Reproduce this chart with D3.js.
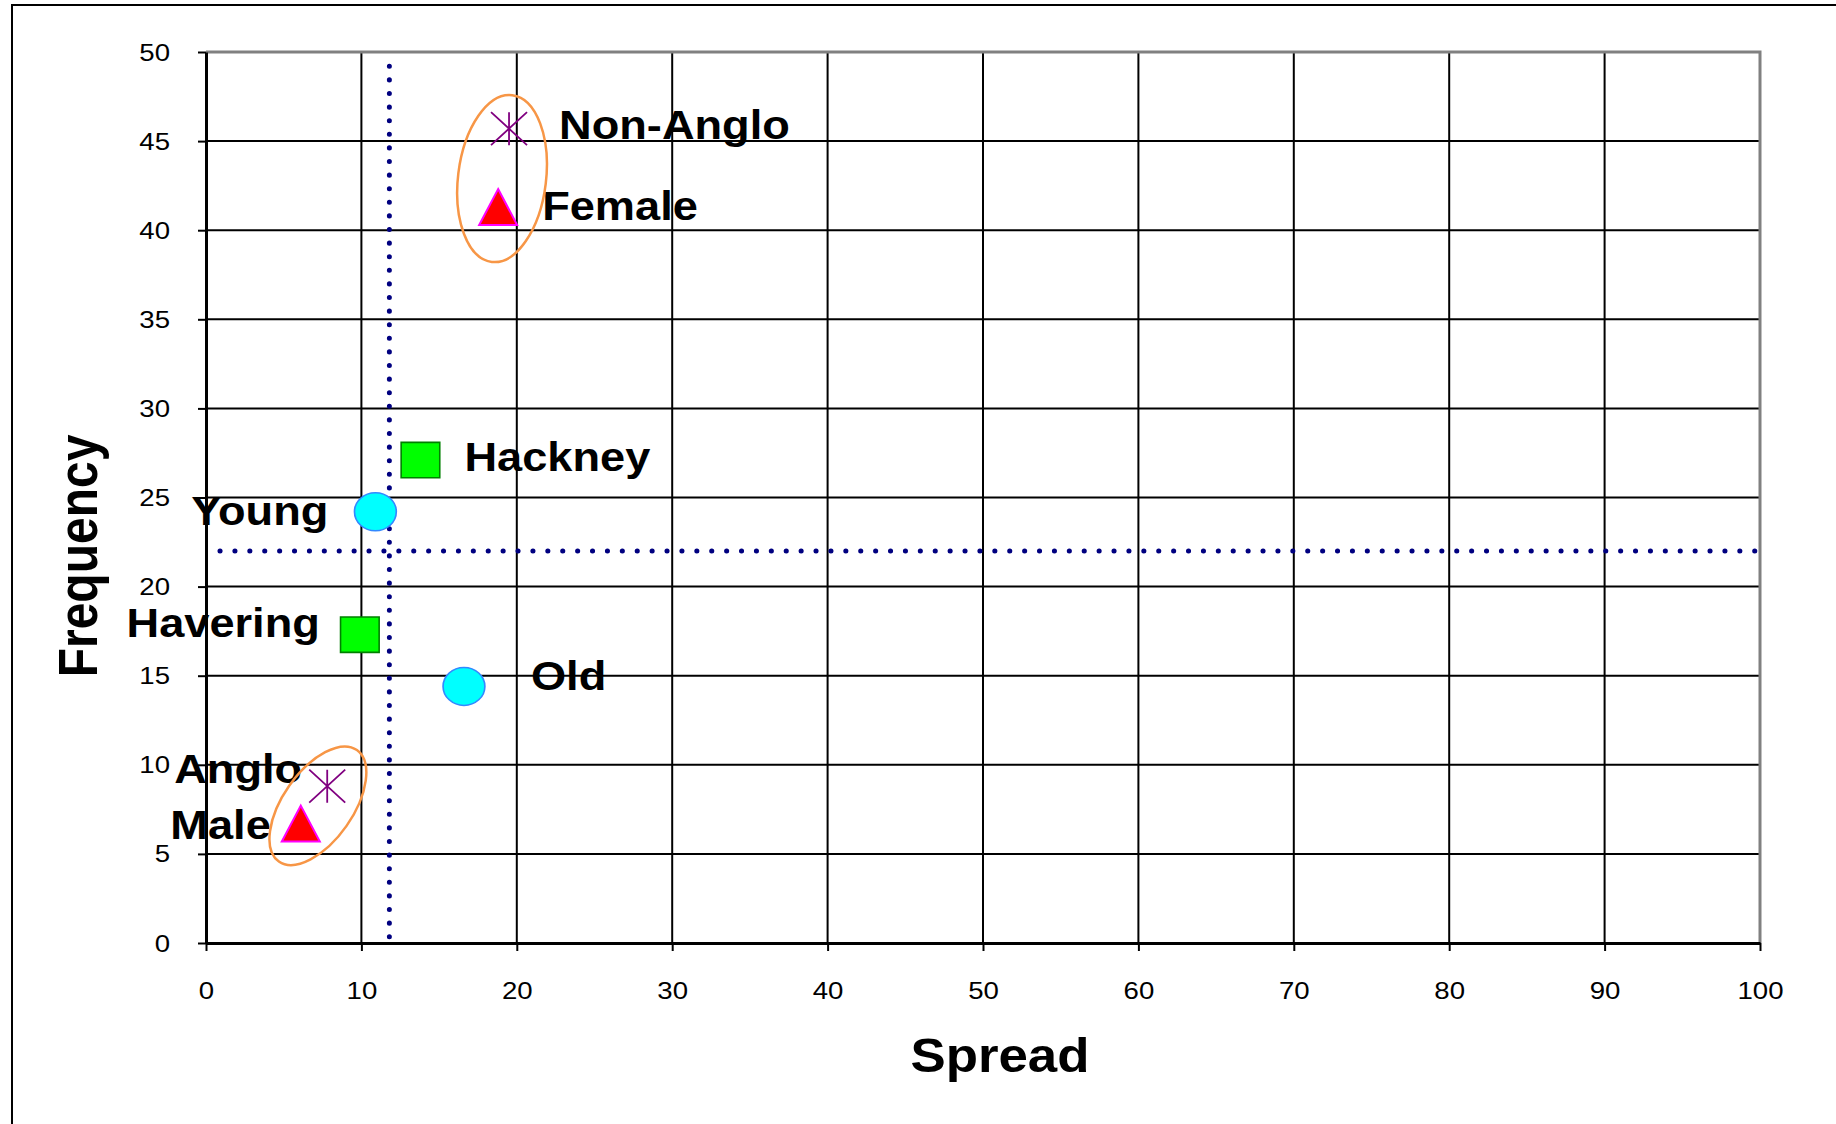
<!DOCTYPE html>
<html>
<head>
<meta charset="utf-8">
<script src="https://cdn.jsdelivr.net/npm/d3@7"></script>
<style>
    body { margin: 0; background: #fff; }
    #chart { width: 1836px; height: 1124px; }
</style>
</head>
<body>
<div id="chart"></div>
<script>
// data
const labels = ["Non-Anglo", "Female", "Hackney", "Young", "Havering", "Old", "Anglo", "Male"];
const groups = ["ethnicity", "gender", "borough", "age", "borough", "age", "ethnicity", "gender"];
const spread = [19.5, 18.8, 13.8, 10.9, 9.9, 16.6, 7.8, 6.1];
const frequency = [45.7, 41.3, 27.1, 24.2, 17.3, 14.4, 8.8, 6.7];

const xTicks = [0, 10, 20, 30, 40, 50, 60, 70, 80, 90, 100];
const yTicks = [0, 5, 10, 15, 20, 25, 30, 35, 40, 45, 50];

// dotted reference lines (averages)
const spreadRef = 11.8;
const frequencyRef = 22;
const spreadRefRange = [-0.4, 49.2];      // y extent of the vertical line
const frequencyRefRange = [0.9, 100.6];   // x extent of the horizontal line

// circled pairs: centre in data units
const circledX = [19.05, 7.2];
const circledY = [42.9, 7.7];

class ScatterVis {
    constructor(parentElement) {
        this.parentElement = parentElement;
        this.initVis();
    }

    initVis() {
        let vis = this;

        vis.svg = d3.select(`#${vis.parentElement}`).append("svg")
            .attr("width", 1836)
            .attr("height", 1124)
            .style("font-family", "Arial, 'Liberation Sans', sans-serif");

        vis.svg.append("rect")
            .attr("width", 1836).attr("height", 1124).attr("fill", "#fff");

        // outer chart frame (runs off the right and bottom)
        vis.svg.append("rect")
            .attr("x", 12).attr("y", 5)
            .attr("width", 1900).attr("height", 1200)
            .attr("fill", "none")
            .attr("stroke", "#000")
            .attr("stroke-width", 2);

        vis.x = d3.scaleLinear().domain([0, 100]).range([206, 1760]);
        vis.y = d3.scaleLinear().domain([0, 50]).range([943, 52]);

        vis.drawGrid();
        vis.drawAxes();
        vis.drawRefLines();
        vis.drawPoints();
        vis.drawRings();
    }

    drawGrid() {
        let vis = this;
        const [x0, x1] = vis.x.range();
        const [y0, y1] = vis.y.range();

        vis.svg.append("g").selectAll("line")
            .data(xTicks.slice(1, -1))
            .enter().append("line")
            .attr("x1", d => vis.x(d)).attr("x2", d => vis.x(d))
            .attr("y1", y1).attr("y2", y0)
            .attr("stroke", "#000").attr("stroke-width", 2);

        vis.svg.append("g").selectAll("line")
            .data(yTicks.slice(1, -1))
            .enter().append("line")
            .attr("x1", x0).attr("x2", x1)
            .attr("y1", d => vis.y(d)).attr("y2", d => vis.y(d))
            .attr("stroke", "#000").attr("stroke-width", 2);

        // grey top and right border of the plot area
        vis.svg.append("path")
            .attr("d", `M${x0},${y1}H${x1}V${y0}`)
            .attr("fill", "none")
            .attr("stroke", "#808080")
            .attr("stroke-width", 3);
    }

    drawAxes() {
        let vis = this;

        const xAxis = d3.axisBottom(vis.x).tickValues(xTicks).tickSize(8).tickSizeOuter(0);
        const yAxis = d3.axisLeft(vis.y).tickValues(yTicks).tickSize(8).tickSizeOuter(0);

        const gx = vis.svg.append("g")
            .attr("transform", `translate(0,${vis.y(0)})`)
            .call(xAxis);
        const gy = vis.svg.append("g")
            .attr("transform", `translate(${vis.x(0)},0)`)
            .call(yAxis);

        [gx, gy].forEach(g => {
            g.select(".domain").attr("stroke", "#000").attr("stroke-width", 3);
            g.selectAll(".tick line").attr("stroke", "#000").attr("stroke-width", 2);
            g.selectAll(".tick text")
                .attr("fill", "#000")
                .style("font-size", "23px")
                .style("font-family", "Arial, 'Liberation Sans', sans-serif");
        });

        gx.selectAll(".tick text")
            .attr("y", 56).attr("dy", 0)
            .attr("transform", "scale(1.2,1)");
        gy.selectAll(".tick text")
            .attr("x", -30).attr("dy", "0.35em")
            .attr("transform", "scale(1.2,1)");

        // axis titles
        vis.svg.append("text")
            .attr("transform", `translate(1000,1072) scale(1.1,1)`)
            .attr("text-anchor", "middle")
            .style("font-size", "48px")
            .style("font-weight", "bold")
            .text("Spread");

        vis.svg.append("text")
            .attr("transform", `translate(97,556) scale(1.15,1) rotate(-90)`)
            .attr("text-anchor", "middle")
            .style("font-size", "48px")
            .style("font-weight", "bold")
            .text("Frequency");
    }

    drawRefLines() {
        let vis = this;

        vis.svg.append("line")
            .attr("x1", vis.x(spreadRef)).attr("x2", vis.x(spreadRef))
            .attr("y1", vis.y(spreadRefRange[1])).attr("y2", vis.y(spreadRefRange[0]))
            .attr("stroke", "#000080")
            .attr("stroke-width", 5)
            .attr("stroke-linecap", "round")
            .attr("stroke-dasharray", "0.1 13.5");

        vis.svg.append("line")
            .attr("x1", vis.x(frequencyRefRange[0])).attr("x2", vis.x(frequencyRefRange[1]))
            .attr("y1", vis.y(frequencyRef)).attr("y2", vis.y(frequencyRef))
            .attr("stroke", "#000080")
            .attr("stroke-width", 5)
            .attr("stroke-linecap", "round")
            .attr("stroke-dasharray", "0.1 14.8");
    }

    drawPoints() {
        let vis = this;

        const markers = {
            gender:    { d: "M0,-18L19,18L-19,18Z", fill: "#ff0000", stroke: "#ff00ff", width: 2 },
            ethnicity: { d: "M-18,-16.5L18,16.5M-18,16.5L18,-16.5M0,-16.5V16.5", fill: "none", stroke: "#800080", width: 1.8 },
            borough:   { d: "M-19.3,-17.7H19.3V17.7H-19.3Z", fill: "#00ff00", stroke: "#008000", width: 1.6 },
            age:       { d: d3.symbol(d3.symbolCircle, Math.PI * 19 * 19)(), fill: "#00ffff", stroke: "#3388ff", width: 1.5 }
        };

        // label placement relative to marker centre
        const labelPos = {
            "Non-Anglo": { dx: 50, dy: 10, anchor: "start" },
            "Female":    { dx: 44, dy: 13, anchor: "start" },
            "Hackney":   { dx: 44, dy: 11, anchor: "start" },
            "Young":     { dx: -47, dy: 13, anchor: "end" },
            "Havering":  { dx: -40, dy: 2, anchor: "end" },
            "Old":       { dx: 67, dy: 4, anchor: "start" },
            "Anglo":     { dx: -25, dy: -3, anchor: "end" },
            "Male":      { dx: -30, dy: 15, anchor: "end" }
        };

        const points = labels.map((l, i) => ({ label: l, group: groups[i], x: spread[i], y: frequency[i] }));

        const g = vis.svg.append("g").selectAll(".point")
            .data(points)
            .enter().append("g")
            .attr("class", "point")
            .attr("transform", d => `translate(${vis.x(d.x)},${vis.y(d.y)})`);

        g.append("path")
            .attr("d", d => markers[d.group].d)
            .attr("transform", d => d.group === "age" ? "scale(1.1,1)" : null)
            .attr("fill", d => markers[d.group].fill)
            .attr("stroke", d => markers[d.group].stroke)
            .attr("stroke-width", d => markers[d.group].width);

        g.append("text")
            .attr("transform", d => `translate(${labelPos[d.label].dx},${labelPos[d.label].dy}) scale(1.13,1)`)
            .attr("text-anchor", d => labelPos[d.label].anchor)
            .style("font-size", "40px")
            .style("font-weight", "bold")
            .attr("fill", "#000")
            .text(d => d.label);
    }

    drawRings() {
        let vis = this;

        const ringShape = [
            { rx: 44, ry: 84, rot: 7 },
            { rx: 35, ry: 68, rot: 35 }
        ];

        vis.svg.append("g").selectAll("ellipse")
            .data(circledX.map((cx, i) => ({ cx: cx, cy: circledY[i], ...ringShape[i] })))
            .enter().append("ellipse")
            .attr("transform", d => `translate(${vis.x(d.cx)},${vis.y(d.cy)}) rotate(${d.rot})`)
            .attr("rx", d => d.rx)
            .attr("ry", d => d.ry)
            .attr("fill", "none")
            .attr("stroke", "#f79646")
            .attr("stroke-width", 2.5);
    }
}

new ScatterVis("chart");
</script>
</body>
</html>
